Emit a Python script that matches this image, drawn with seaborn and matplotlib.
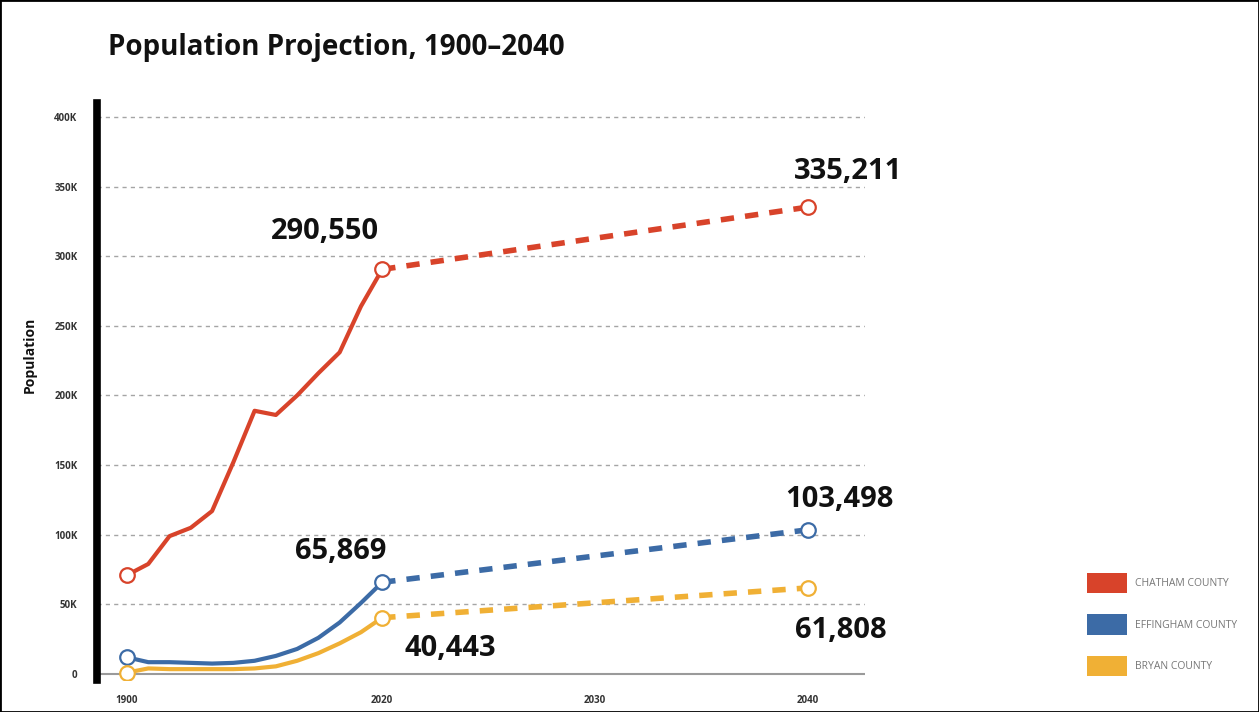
import numpy as np
import pandas as pd
import matplotlib
matplotlib.use("Agg")
import matplotlib.pyplot as plt
import seaborn as sns
from matplotlib.patches import Patch, Rectangle

# Datos
years_hist = [1900, 1910, 1920, 1930, 1940, 1950, 1960, 1970, 1980, 1990, 2000, 2010, 2020]
years_proj = [2020, 2040]

chatham_hist = [71000, 79000, 99000, 105000, 117000, 152000, 189000, 186000, 200000, 216000, 231000, 264000, 290550]
effingham_hist = [12000, 8500, 8500, 8000, 7500, 8000, 9500, 13000, 18000, 26000, 37000, 51000, 65869]
bryan_hist = [1000, 4000, 3500, 3500, 3500, 3500, 4000, 5500, 9500, 15000, 22000, 30000, 40443]

chatham_proj = [290550, 335211]
effingham_proj = [65869, 103498]
bryan_proj = [40443, 61808]

counties = ["CHATHAM COUNTY", "EFFINGHAM COUNTY", "BRYAN COUNTY"]
colors = ["#D8432A", "#3C6BA6", "#F0B035"]

hist = pd.DataFrame({
    "year": years_hist * 3,
    "pop": chatham_hist + effingham_hist + bryan_hist,
    "county": np.repeat(counties, len(years_hist)),
})
proj = pd.DataFrame({
    "year": years_proj * 3,
    "pop": chatham_proj + effingham_proj + bryan_proj,
    "county": np.repeat(counties, len(years_proj)),
})

sns.set_theme(style="white")
plt.rcParams["font.family"] = ["Open Sans", "DejaVu Sans"]

fig = plt.figure(figsize=(12.59, 7.12), dpi=100)
ax = fig.add_axes([97 / 1259, 1 - 680 / 712, (865 - 97) / 1259, (680 - 103) / 712])


# Escala: décadas hasta 2020, años después
def fwd(x):
    x = np.asarray(x, dtype=float)
    return np.where(x <= 2020, (x - 1900) / 10, 12 + (x - 2020))


def inv(p):
    p = np.asarray(p, dtype=float)
    return np.where(p <= 12, 1900 + p * 10, 2020 + (p - 12))


for county, color in zip(counties, colors):
    h = hist[hist["county"] == county]
    p = proj[proj["county"] == county]
    sns.lineplot(data=h, x="year", y="pop", color=color, linewidth=3, ax=ax, zorder=3)
    sns.lineplot(data=p, x="year", y="pop", color=color, linewidth=4, ax=ax,
                 linestyle=(0, (2.4, 2.0)), zorder=3)
    ends = pd.concat([h.iloc[[0, -1]], p.iloc[[-1]]])
    sns.scatterplot(data=ends, x="year", y="pop", s=110, facecolor="white",
                    edgecolor=color, linewidth=1.6, ax=ax, zorder=5)

ax.set_xscale("function", functions=(fwd, inv))
ax.set_xlim(1885.9, 2042.7)
ax.set_ylim(-4300, 410000)

ax.set_xticks([1900, 2020, 2030, 2040])
ax.set_xticklabels(["1900", "2020", "2030", "2040"])
yt = np.arange(0, 400001, 50000)
ax.set_yticks(yt)
ax.set_yticklabels(["0"] + [f"{int(v / 1000)}K" for v in yt[1:]])
ax.tick_params(axis="both", length=0, labelsize=7, colors="#333333")
ax.tick_params(axis="y", pad=14)
ax.tick_params(axis="x", pad=11)
for lab in ax.get_xticklabels() + ax.get_yticklabels():
    lab.set_fontweight("bold")

for v in yt[1:]:
    ax.axhline(v, color="#a5a5a5", linewidth=1, linestyle=(0, (3, 3)), zorder=1)
ax.axhline(0, color="#9a9a9a", linewidth=1.5, zorder=2)

for s in ["top", "right", "bottom"]:
    ax.spines[s].set_visible(False)
ax.spines["left"].set_linewidth(5.5)
ax.spines["left"].set_color("black")

ax.set_xlabel("")
ax.set_ylabel("")

# Etiquetas de valores
notes = [
    (2020, 290550, "290,550", (-41, 27)),
    (2040, 335211, "335,211", (29, 26)),
    (2040, 103498, "103,498", (23, 22)),
    (2020, 65869, "65,869", (-30, 22)),
    (2020, 40443, "40,443", (49, -22)),
    (2040, 61808, "61,808", (24, -31)),
]
for x, y, txt, off in notes:
    ax.annotate(txt, xy=(x, y), xytext=off, textcoords="offset points",
                ha="center", va="center", fontsize=21, fontweight="bold", color="#111111")

fig.text(108 / 1259, 1 - 47 / 712, "Population Projection, 1900\u20132040",
         fontsize=20, fontweight="bold", color="#111111", va="center", ha="left")
fig.text(30 / 1259, 1 - 355 / 712, "Population", rotation=90, fontsize=10,
         fontweight="bold", color="#111111", va="center", ha="center")

handles = [Patch(facecolor=c, edgecolor="none") for c in colors]
leg = fig.legend(handles, counties, loc="upper left",
                 bbox_to_anchor=(1087 / 1259, 1 - 573 / 712), frameon=False,
                 fontsize=7.5, handlelength=3.85, handleheight=2.65, labelspacing=2.0,
                 handletextpad=0.8, borderpad=0, borderaxespad=0)
for t in leg.get_texts():
    t.set_color("#777777")

fig.patches.append(Rectangle((0, 0), 1, 1, transform=fig.transFigure, fill=False,
                             edgecolor="black", linewidth=2))

plt.savefig("out.png", dpi=100)
plt.close()
